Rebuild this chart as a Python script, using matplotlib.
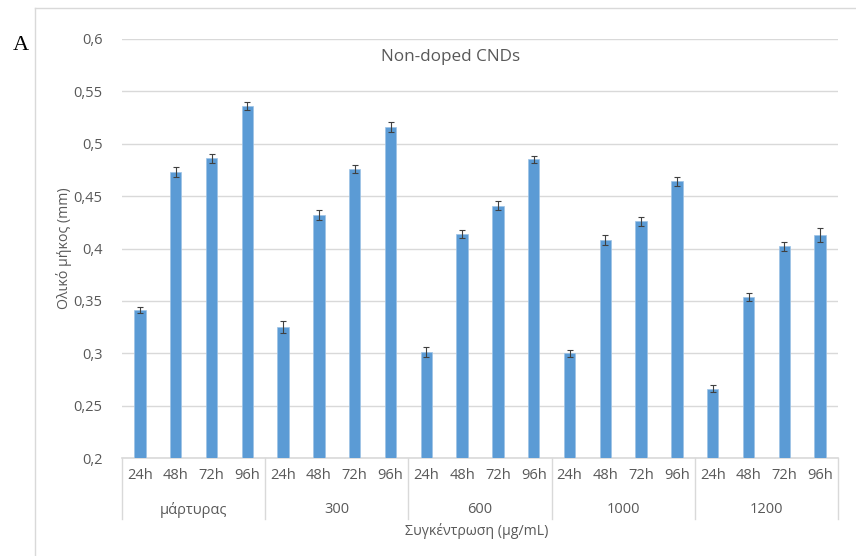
import matplotlib.pyplot as plt
from matplotlib.ticker import FuncFormatter
import matplotlib.transforms as mtransforms

# Data
groups = ['μάρτυρας', '300', '600', '1000', '1200']
hours = ['24h', '48h', '72h', '96h']
values = [
    [0.341, 0.473, 0.486, 0.536],
    [0.325, 0.432, 0.476, 0.516],
    [0.301, 0.414, 0.441, 0.485],
    [0.300, 0.408, 0.426, 0.464],
    [0.266, 0.354, 0.402, 0.413],
]
errors = [
    [0.003, 0.0045, 0.004, 0.004],
    [0.0055, 0.005, 0.004, 0.005],
    [0.0045, 0.004, 0.004, 0.0035],
    [0.0035, 0.005, 0.0045, 0.0045],
    [0.0033, 0.0037, 0.004, 0.007],
]

text_col = '#595959'
grid_col = '#D9D9D9'
bar_col = '#5B9BD5'
plt.rcParams['font.family'] = ['Open Sans', 'DejaVu Sans']

W, H = 856, 556
fig = plt.figure(figsize=(W / 100, H / 100), dpi=100)

# outer chart frame (top and left edges)
fig.add_artist(plt.Line2D([35 / W, 1], [1 - 8 / H, 1 - 8 / H], color=grid_col, lw=1))
fig.add_artist(plt.Line2D([35 / W, 35 / W], [0, 1 - 8 / H], color=grid_col, lw=1))

ax = fig.add_axes([122 / W, (H - 458) / H, 716 / W, 419 / H])

flat_vals = [v for g in values for v in g]
flat_err = [e for g in errors for e in g]
xs = list(range(len(flat_vals)))
ax.bar(xs, [v - 0.2 for v in flat_vals], bottom=0.2, width=0.32, color=bar_col,
       edgecolor='#9DC3E6', linewidth=0.5, zorder=3)
ax.errorbar(xs, flat_vals, yerr=flat_err, fmt='none', ecolor='#404040',
            elinewidth=0.8, capsize=2, capthick=0.8, zorder=4)

ax.set_xlim(-0.5, len(xs) - 0.5)
ax.set_ylim(0.2, 0.6)
ax.set_yticks([0.2 + 0.05 * i for i in range(9)])
ax.yaxis.set_major_formatter(FuncFormatter(lambda v, p: f'{v:g}'.replace('.', ',')))
ax.grid(axis='y', color=grid_col, lw=1, zorder=0)
for s in ['top', 'right', 'left']:
    ax.spines[s].set_visible(False)
ax.spines['bottom'].set_color(grid_col)
ax.spines['bottom'].set_linewidth(1.2)
ax.tick_params(axis='both', length=0, labelsize=10.5, labelcolor=text_col)
ax.tick_params(axis='y', pad=14)
ax.tick_params(axis='x', pad=7)
ax.set_xticks(xs)
ax.set_xticklabels(hours * len(groups))

trans = mtransforms.blended_transform_factory(ax.transData, ax.transAxes)
n = len(hours)
for gi, g in enumerate(groups):
    ax.text(gi * n + (n - 1) / 2, -0.124, g, transform=trans, ha='center', va='center',
            fontsize=10.5, color=text_col)
for gi in range(len(groups) + 1):
    xb = gi * n - 0.5
    ax.plot([xb, xb], [0, -0.146], transform=trans, color=grid_col, lw=1, clip_on=False)

fig.text(451 / W, 1 - 57 / H, 'Non-doped CNDs', ha='center', va='center',
         fontsize=12.3, color=text_col)
fig.text(64 / W, 1 - 248 / H, 'Ολικό μήκος (mm)', rotation=90, ha='center', va='center',
         fontsize=10.2, color=text_col)
fig.text(477 / W, 1 - 531 / H, 'Συγκέντρωση (μg/mL)', ha='center', va='center',
         fontsize=10.2, color=text_col)
fig.text(21 / W, 1 - 46 / H, 'A', ha='center', va='center', fontsize=16,
         family='Liberation Serif', color='black')

fig.savefig('out.png', dpi=100)
